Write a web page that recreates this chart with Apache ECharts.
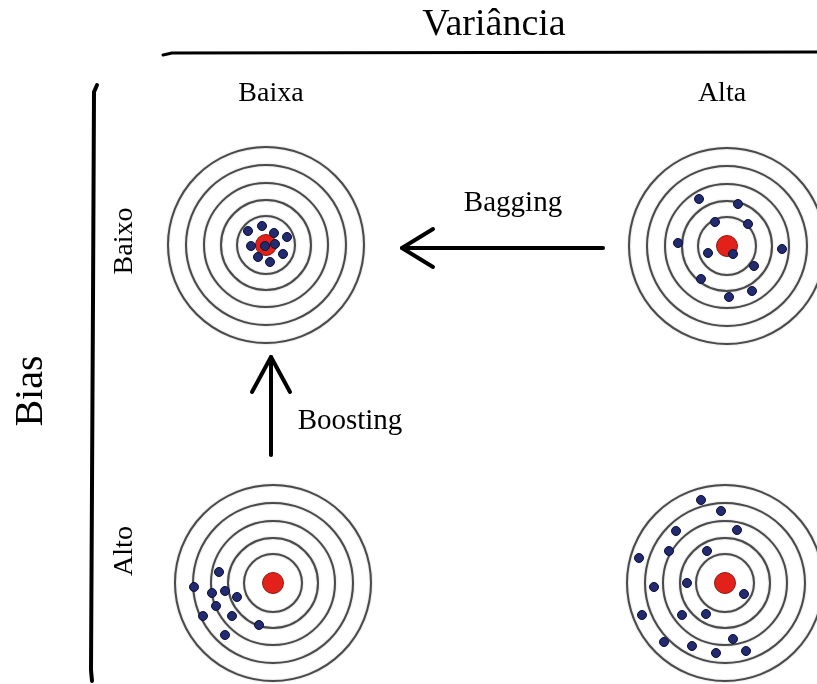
<!DOCTYPE html>
<html>
<head>
<meta charset="utf-8">
<title>Bias e Variância</title>
<script src="https://cdn.jsdelivr.net/npm/echarts@6/dist/echarts.min.js"></script>
<style>
  html, body { margin: 0; padding: 0; background: #fff; }
  #chart { width: 817px; height: 684px; }
</style>
</head>
<body>
<div id="chart"></div>
<script>
// labels
const titleX = 'Variância';
const titleY = 'Bias';
const varianceLevels = ['Baixa', 'Alta'];
const biasLevels = ['Baixo', 'Alto'];
const methods = ['Bagging', 'Boosting'];

// ring boundaries of every target (same units as the shots)
const ringRadii = [29, 45, 62, 80, 98];

// shot offsets from the bullseye, y measured downwards
const lowBiasLowVar = [
  [-18, -14], [-4, -19], [8, -12], [21, -8], [-15, 1],
  [-1, 1], [9, -1], [17, 9], [-8, 12], [4, 17]
];
const lowBiasHighVar = [
  [-28, -47], [11, -42], [-12, -24], [21, -22], [-49, -3], [-19, 7],
  [6, 8], [55, 3], [27, 20], [-26, 33], [25, 45], [2, 51]
];
const highBiasLowVar = [
  [-54, -11], [-79, 4], [-61, 10], [-48, 8], [-36, 14],
  [-57, 23], [-70, 33], [-41, 33], [-14, 42], [-48, 52]
];
const highBiasHighVar = [
  [-24, -83], [-4, -72], [-49, -52], [12, -53], [-56, -32], [-18, -32],
  [-86, -25], [-71, 4], [-38, 0], [19, 11], [-83, 32], [-43, 32],
  [-19, 31], [8, 56], [-61, 59], [-33, 63], [-9, 70], [21, 68]
];

const shots = [lowBiasLowVar, lowBiasHighVar, highBiasLowVar, highBiasHighVar];

// layout: pixel centre of each target (grid box must stay inside the canvas)
const centres = [[266, 245], [727, 246], [273, 583], [725, 583]];
const half = 85;

const serif = "'Liberation Serif', 'DejaVu Serif', serif";
const chart = echarts.init(document.getElementById('chart'), null, { renderer: 'canvas' });

const grid = [], xAxis = [], yAxis = [], series = [];
centres.forEach(function (c, i) {
  grid.push({ left: c[0] - half, top: c[1] - half, width: 2 * half, height: 2 * half });
  xAxis.push({ gridIndex: i, type: 'value', min: -half, max: half, show: false });
  yAxis.push({ gridIndex: i, type: 'value', min: -half, max: half, inverse: true, show: false });

  series.push({
    type: 'custom',
    xAxisIndex: i,
    yAxisIndex: i,
    silent: true,
    clip: false,
    data: ringRadii.map(function (r) { return [r]; }),
    renderItem: function (params, api) {
      const o = api.coord([0, 0]);
      const r = api.size([api.value(0), 0])[0];
      return {
        type: 'circle',
        shape: { cx: o[0], cy: o[1], r: r },
        style: { fill: 'none', stroke: '#4a4a4a', lineWidth: 2, shadowBlur: 2, shadowColor: 'rgba(0,0,0,0.25)' }
      };
    }
  });
  series.push({
    type: 'scatter',
    xAxisIndex: i,
    yAxisIndex: i,
    silent: true,
    clip: false,
    symbolSize: 21,
    itemStyle: { color: '#e3211b', borderColor: '#8e1b12', borderWidth: 1, opacity: 1 },
    data: [[0, 0]]
  });
  series.push({
    type: 'scatter',
    xAxisIndex: i,
    yAxisIndex: i,
    silent: true,
    clip: false,
    symbolSize: 9,
    itemStyle: { color: '#232b70', borderColor: '#0b0e33', borderWidth: 1, opacity: 1 },
    data: shots[i]
  });
});

function label(text, x, y, size, rot) {
  return {
    type: 'text',
    x: x, y: y,
    rotation: rot || 0,
    silent: true,
    style: { text: text, fill: '#000', font: size + 'px ' + serif, align: 'center', verticalAlign: 'middle' }
  };
}
function stroke(points, width) {
  return {
    type: 'polyline',
    silent: true,
    shape: { points: points },
    style: { stroke: '#000', lineWidth: width, lineCap: 'round', lineJoin: 'round', fill: null }
  };
}

const option = {
  backgroundColor: '#fff',
  animation: false,
  grid: grid,
  xAxis: xAxis,
  yAxis: yAxis,
  series: series,
  graphic: [
    label(titleX, 494, 25, 38),
    stroke([[163, 55], [172, 53], [817, 52]], 3),
    label(varianceLevels[0], 271, 94, 28),
    label(varianceLevels[1], 722, 94, 28),
    stroke([[97, 85], [94, 92], [93, 300], [91, 670], [92, 681]], 4),
    label(titleY, 31, 391, 40, Math.PI / 2),
    label(biasLevels[0], 125, 241, 28, Math.PI / 2),
    label(biasLevels[1], 125, 551, 28, Math.PI / 2),
    label(methods[0], 513, 203, 29),
    stroke([[603, 248], [402, 248]], 4),
    stroke([[433, 229], [402, 248], [433, 267]], 4),
    label(methods[1], 350, 421, 29),
    stroke([[271, 455], [271, 357]], 4),
    stroke([[252, 392], [271, 357], [290, 392]], 4)
  ]
};

chart.setOption(option);
</script>
</body>
</html>
